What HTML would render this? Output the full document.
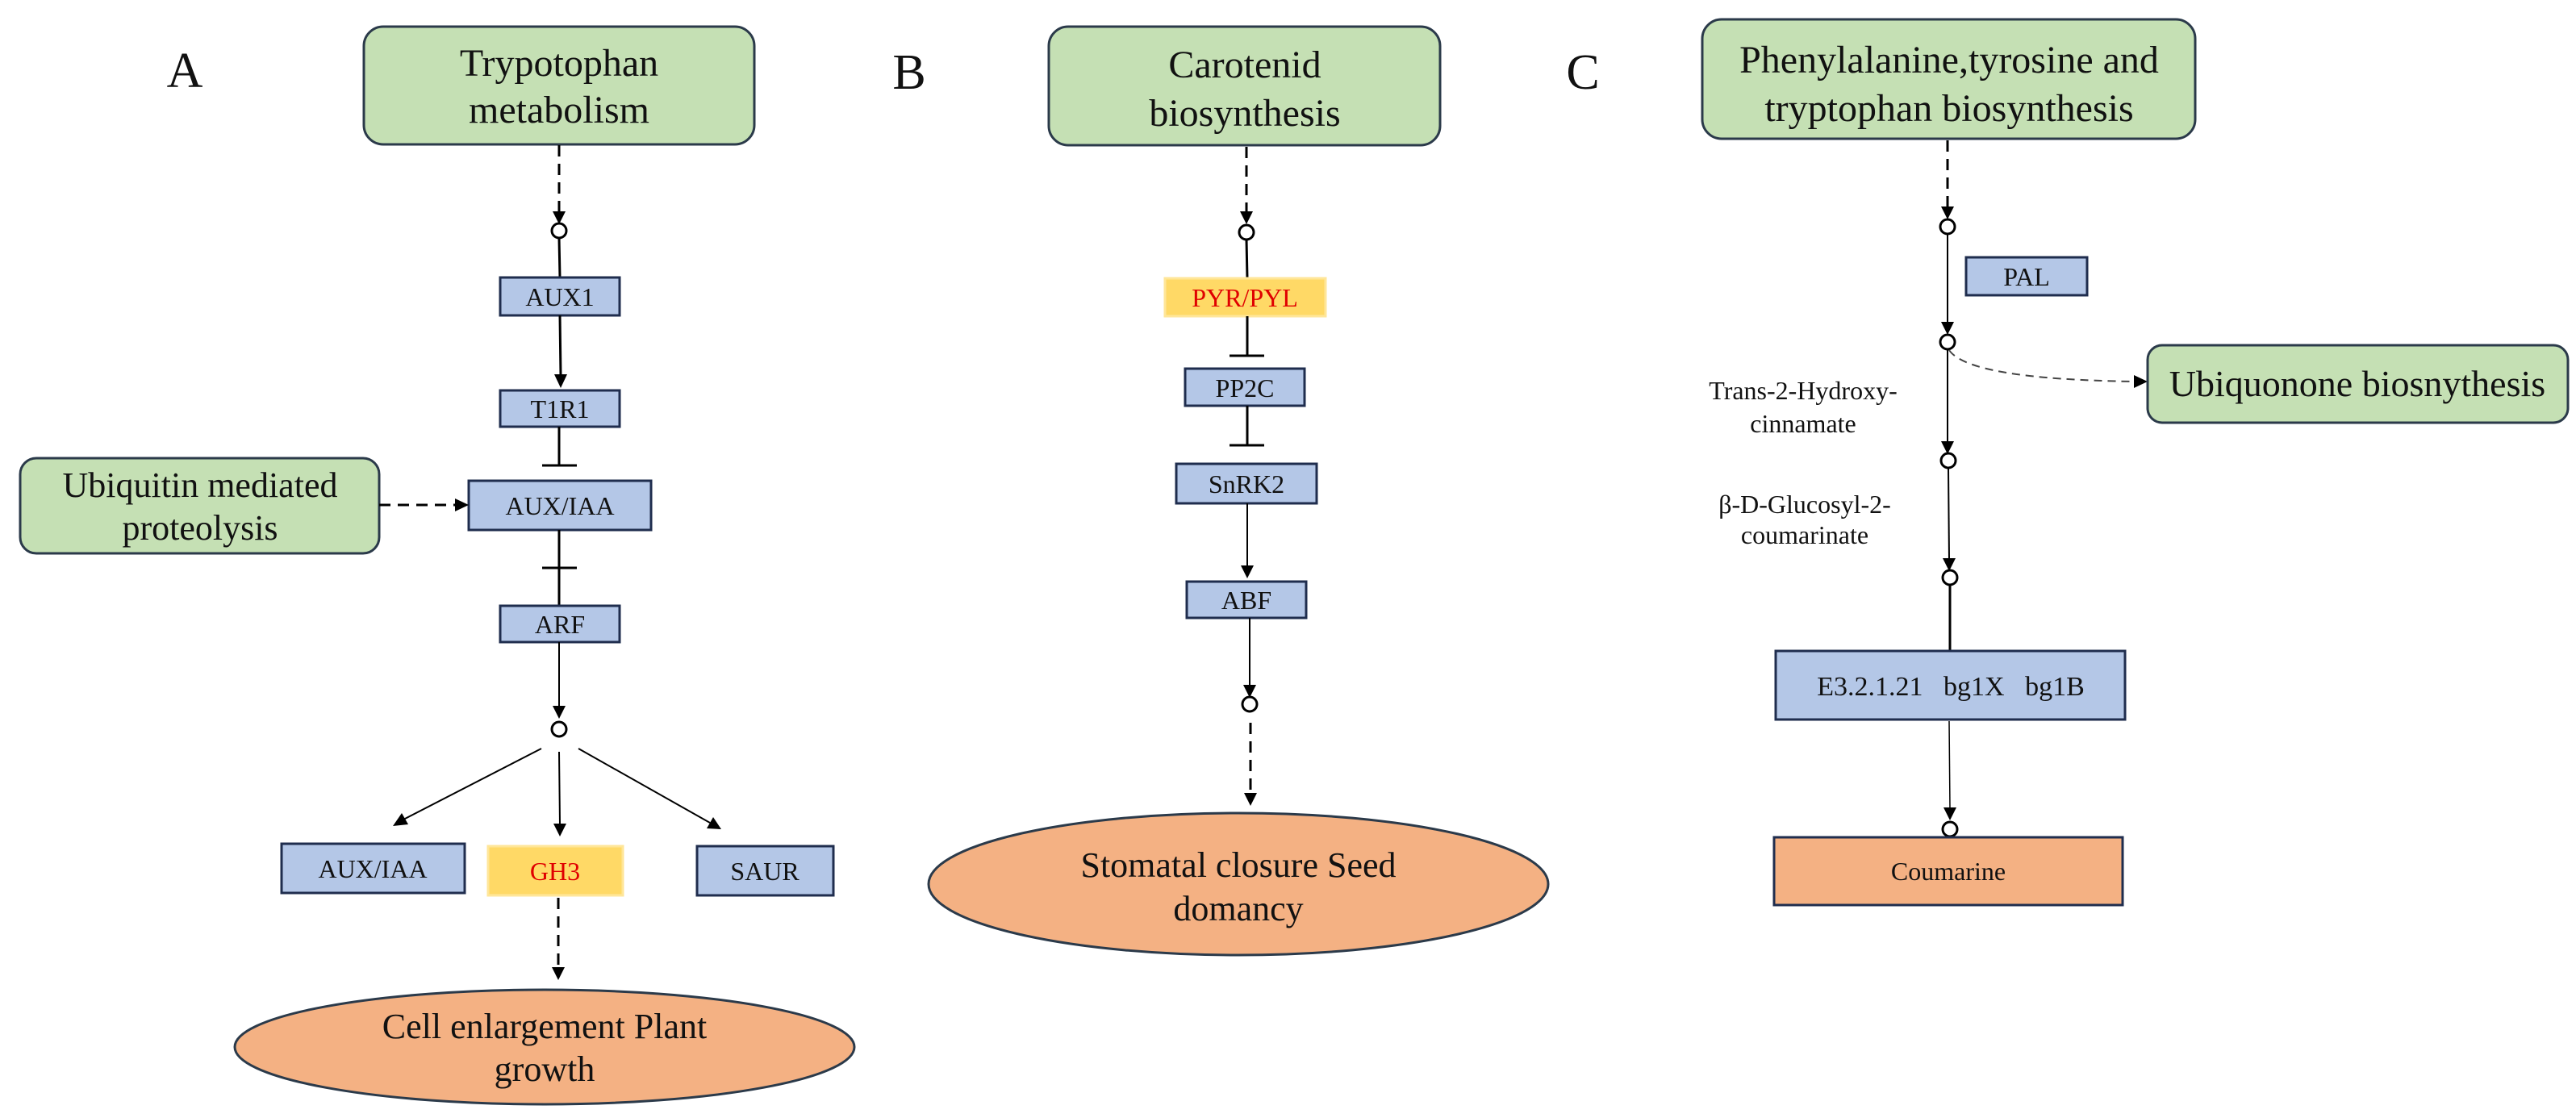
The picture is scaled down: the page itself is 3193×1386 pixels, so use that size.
<!DOCTYPE html>
<html><head><meta charset="utf-8"><style>
html,body{margin:0;padding:0;background:#fff;font-family:"Liberation Serif","DejaVu Serif",serif}
svg{display:block;font-family:"Liberation Serif","DejaVu Serif",serif}
svg text{font-family:"Liberation Serif","DejaVu Serif",serif !important;fill:#111}
</style></head><body>
<svg width="3193" height="1386" viewBox="0 0 3193 1386" xmlns="http://www.w3.org/2000/svg" font-family="Liberation Serif, DejaVu Serif, serif">
<g stroke-linejoin="miter" font-family="Liberation Serif, DejaVu Serif, serif">
<!-- Panel letters -->
<text x="229" y="108" font-size="62" text-anchor="middle">A</text>
<text x="1127" y="110" font-size="62" text-anchor="middle">B</text>
<text x="1962" y="110" font-size="62" text-anchor="middle">C</text>

<!-- ============ PANEL A ============ -->
<rect x="451" y="33" width="484" height="146" rx="24" fill="#C5E0B4" stroke="#2B3A4A" stroke-width="3"/>
<text x="693" y="94" font-size="48" text-anchor="middle">Trypotophan</text>
<text x="693" y="152" font-size="48" text-anchor="middle">metabolism</text>
<line x1="693" y1="180" x2="693" y2="262" stroke="#000" stroke-width="3" stroke-dasharray="14,9"/>
<polygon points="685,262 701,262 693,278" fill="#000"/>
<circle cx="693" cy="286" r="9" fill="#fff" stroke="#000" stroke-width="3"/>
<line x1="693" y1="295" x2="694" y2="344" stroke="#000" stroke-width="3"/>
<rect x="620" y="344" width="148" height="47" fill="#B4C7E7" stroke="#1F2D4E" stroke-width="3"/>
<text x="694" y="379" font-size="32" text-anchor="middle">AUX1</text>
<line x1="694" y1="391" x2="695" y2="466" stroke="#000" stroke-width="3"/>
<polygon points="687,464 703,464 695,481" fill="#000"/>
<rect x="620" y="484" width="148" height="45" fill="#B4C7E7" stroke="#1F2D4E" stroke-width="3"/>
<text x="694" y="518" font-size="32" text-anchor="middle">T1R1</text>
<line x1="693" y1="529" x2="693" y2="577" stroke="#000" stroke-width="3"/>
<line x1="672" y1="577" x2="715" y2="577" stroke="#000" stroke-width="3"/>
<rect x="581" y="596" width="226" height="61" fill="#B4C7E7" stroke="#1F2D4E" stroke-width="3"/>
<text x="694" y="638" font-size="32" text-anchor="middle">AUX/IAA</text>
<rect x="25" y="568" width="445" height="118" rx="20" fill="#C5E0B4" stroke="#2B3A4A" stroke-width="3"/>
<text x="248" y="616" font-size="44" text-anchor="middle">Ubiquitin mediated</text>
<text x="248" y="669" font-size="44" text-anchor="middle">proteolysis</text>
<line x1="470" y1="626" x2="566" y2="626" stroke="#000" stroke-width="3" stroke-dasharray="14,9"/>
<polygon points="564,618 564,634 581,626" fill="#000"/>
<line x1="693" y1="657" x2="693" y2="751" stroke="#000" stroke-width="3"/>
<line x1="672" y1="704" x2="715" y2="704" stroke="#000" stroke-width="3"/>
<rect x="620" y="751" width="148" height="45" fill="#B4C7E7" stroke="#1F2D4E" stroke-width="3"/>
<text x="694" y="785" font-size="32" text-anchor="middle">ARF</text>
<line x1="693" y1="796" x2="693" y2="876" stroke="#000" stroke-width="2"/>
<polygon points="685,875 701,875 693,891" fill="#000"/>
<circle cx="693" cy="904" r="9" fill="#fff" stroke="#000" stroke-width="3"/>
<line x1="671" y1="928" x2="500" y2="1016" stroke="#000" stroke-width="2"/>
<polygon points="487,1024 498,1008 506,1022" fill="#000"/>
<line x1="693" y1="932" x2="694" y2="1022" stroke="#000" stroke-width="2"/>
<polygon points="686,1021 702,1021 694,1037" fill="#000"/>
<line x1="717" y1="928" x2="880" y2="1020" stroke="#000" stroke-width="2"/>
<polygon points="894,1028 876,1027 884,1013" fill="#000"/>
<rect x="349" y="1046" width="227" height="61" fill="#B4C7E7" stroke="#1F2D4E" stroke-width="3"/>
<text x="462" y="1088" font-size="32" text-anchor="middle">AUX/IAA</text>
<rect x="605" y="1049" width="167" height="61" fill="#FFD966" stroke="#FFE699" stroke-width="3"/>
<text x="688" y="1091" font-size="32" text-anchor="middle" style="fill:#E00000">GH3</text>
<rect x="864" y="1049" width="169" height="61" fill="#B4C7E7" stroke="#1F2D4E" stroke-width="3"/>
<text x="948" y="1091" font-size="32" text-anchor="middle">SAUR</text>
<line x1="692" y1="1113" x2="692" y2="1200" stroke="#000" stroke-width="3" stroke-dasharray="14,9"/>
<polygon points="684,1199 700,1199 692,1215" fill="#000"/>
<ellipse cx="675" cy="1298" rx="384" ry="71" fill="#F4B183" stroke="#2B3A4A" stroke-width="3"/>
<text x="675" y="1287" font-size="44" text-anchor="middle">Cell enlargement Plant</text>
<text x="675" y="1340" font-size="44" text-anchor="middle">growth</text>

<!-- ============ PANEL B ============ -->
<rect x="1300" y="33" width="485" height="147" rx="24" fill="#C5E0B4" stroke="#2B3A4A" stroke-width="3"/>
<text x="1543" y="96" font-size="48" text-anchor="middle">Carotenid</text>
<text x="1543" y="156" font-size="48" text-anchor="middle">biosynthesis</text>
<line x1="1545" y1="182" x2="1545" y2="262" stroke="#000" stroke-width="3" stroke-dasharray="14,9"/>
<polygon points="1537,262 1553,262 1545,278" fill="#000"/>
<circle cx="1545" cy="288" r="9" fill="#fff" stroke="#000" stroke-width="3"/>
<line x1="1545" y1="297" x2="1546" y2="345" stroke="#000" stroke-width="3"/>
<rect x="1444" y="345" width="199" height="47" fill="#FFD966" stroke="#FFE699" stroke-width="3"/>
<text x="1543" y="380" font-size="32" text-anchor="middle" style="fill:#E00000">PYR/PYL</text>
<line x1="1546" y1="392" x2="1546" y2="441" stroke="#000" stroke-width="3"/>
<line x1="1524" y1="441" x2="1567" y2="441" stroke="#000" stroke-width="3"/>
<rect x="1469" y="457" width="148" height="46" fill="#B4C7E7" stroke="#1F2D4E" stroke-width="3"/>
<text x="1543" y="492" font-size="32" text-anchor="middle">PP2C</text>
<line x1="1546" y1="503" x2="1546" y2="552" stroke="#000" stroke-width="3"/>
<line x1="1524" y1="552" x2="1567" y2="552" stroke="#000" stroke-width="3"/>
<rect x="1458" y="575" width="174" height="49" fill="#B4C7E7" stroke="#1F2D4E" stroke-width="3"/>
<text x="1545" y="611" font-size="32" text-anchor="middle">SnRK2</text>
<line x1="1546" y1="624" x2="1546" y2="702" stroke="#000" stroke-width="2"/>
<polygon points="1538,701 1554,701 1546,717" fill="#000"/>
<rect x="1471" y="721" width="148" height="45" fill="#B4C7E7" stroke="#1F2D4E" stroke-width="3"/>
<text x="1545" y="755" font-size="32" text-anchor="middle">ABF</text>
<line x1="1549" y1="766" x2="1549" y2="850" stroke="#000" stroke-width="2"/>
<polygon points="1541,849 1557,849 1549,865" fill="#000"/>
<circle cx="1549" cy="873" r="9" fill="#fff" stroke="#000" stroke-width="3"/>
<line x1="1550" y1="896" x2="1550" y2="984" stroke="#000" stroke-width="3" stroke-dasharray="14,9"/>
<polygon points="1542,983 1558,983 1550,999" fill="#000"/>
<ellipse cx="1535" cy="1096" rx="384" ry="88" fill="#F4B183" stroke="#2B3A4A" stroke-width="3"/>
<text x="1535" y="1087" font-size="44" text-anchor="middle">Stomatal closure Seed</text>
<text x="1535" y="1141" font-size="44" text-anchor="middle">domancy</text>

<!-- ============ PANEL C ============ -->
<rect x="2110" y="24" width="611" height="148" rx="24" fill="#C5E0B4" stroke="#2B3A4A" stroke-width="3"/>
<text x="2416" y="90" font-size="48" text-anchor="middle">Phenylalanine,tyrosine and</text>
<text x="2416" y="150" font-size="48" text-anchor="middle">tryptophan biosynthesis</text>
<line x1="2414" y1="174" x2="2414" y2="256" stroke="#000" stroke-width="3" stroke-dasharray="14,9"/>
<polygon points="2406,256 2422,256 2414,272" fill="#000"/>
<circle cx="2414" cy="281" r="9" fill="#fff" stroke="#000" stroke-width="3"/>
<line x1="2414" y1="290" x2="2414" y2="400" stroke="#000" stroke-width="2"/>
<polygon points="2406,399 2422,399 2414,415" fill="#000"/>
<rect x="2437" y="319" width="150" height="47" fill="#B4C7E7" stroke="#1F2D4E" stroke-width="3"/>
<text x="2512" y="354" font-size="32" text-anchor="middle">PAL</text>
<circle cx="2414" cy="424" r="9" fill="#fff" stroke="#000" stroke-width="3"/>
<path d="M2416,434 Q2440,470 2646,473" fill="none" stroke="#444" stroke-width="2" stroke-dasharray="10,7"/>
<polygon points="2645,465 2645,481 2662,473" fill="#000"/>
<rect x="2662" y="428" width="521" height="96" rx="18" fill="#C5E0B4" stroke="#2B3A4A" stroke-width="3"/>
<text x="2922" y="491" font-size="46" text-anchor="middle">Ubiquonone biosnythesis</text>
<text x="2235" y="495" font-size="32" text-anchor="middle">Trans-2-Hydroxy-</text>
<text x="2235" y="536" font-size="32" text-anchor="middle">cinnamate</text>
<line x1="2414" y1="433" x2="2414" y2="548" stroke="#000" stroke-width="2"/>
<polygon points="2406,547 2422,547 2414,563" fill="#000"/>
<circle cx="2415" cy="571" r="9" fill="#fff" stroke="#000" stroke-width="3"/>
<text x="2237" y="636" font-size="32" text-anchor="middle">β-D-Glucosyl-2-</text>
<text x="2237" y="674" font-size="32" text-anchor="middle">coumarinate</text>
<line x1="2415" y1="580" x2="2416" y2="694" stroke="#000" stroke-width="2"/>
<polygon points="2408,692 2424,692 2416,708" fill="#000"/>
<circle cx="2417" cy="716" r="9" fill="#fff" stroke="#000" stroke-width="3"/>
<line x1="2417" y1="725" x2="2417" y2="807" stroke="#000" stroke-width="3"/>
<rect x="2201" y="807" width="433" height="85" fill="#B4C7E7" stroke="#1F2D4E" stroke-width="3"/>
<text x="2418" y="862" font-size="34" text-anchor="middle" xml:space="preserve">E3.2.1.21   bg1X   bg1B</text>
<line x1="2416" y1="894" x2="2417" y2="1003" stroke="#000" stroke-width="1.5"/>
<polygon points="2409,1001 2425,1001 2417,1017" fill="#000"/>
<circle cx="2417" cy="1028" r="9" fill="#fff" stroke="#000" stroke-width="3"/>
<rect x="2199" y="1038" width="432" height="84" fill="#F4B183" stroke="#1F2D4E" stroke-width="3"/>
<text x="2415" y="1091" font-size="32" text-anchor="middle">Coumarine</text>
</g>
</svg>
</body></html>
